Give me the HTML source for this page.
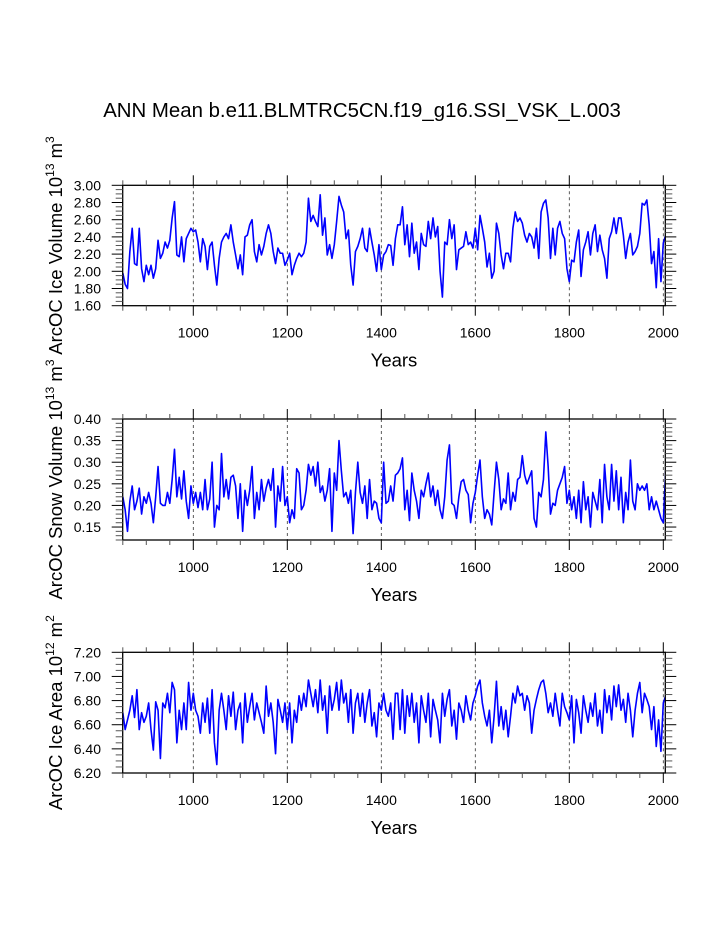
<!DOCTYPE html>
<html><head><meta charset="utf-8"><style>
body{margin:0;background:#fff;}
svg{display:block;font-family:"Liberation Sans",sans-serif;}
</style></head><body>
<svg id="fig" width="723" height="935" viewBox="0 0 723 935" xmlns="http://www.w3.org/2000/svg">
<rect width="723" height="935" fill="#fff"/>
<text x="362" y="117" font-size="20.4" text-anchor="middle">ANN Mean b.e11.BLMTRC5CN.f19_g16.SSI_VSK_L.003</text>
</svg>
<script>
const startYear = 850;
const yearStep = 5;
const xTickLabels = [1000, 1200, 1400, 1600, 1800, 2000];
const iceVolume = [1.98,1.85,1.80,2.23,2.5,2.09,2.07,2.5,2.03,1.88,2.07,1.96,2.07,1.92,2.03,2.36,2.15,2.21,2.34,2.27,2.36,2.62,2.81,2.19,2.17,2.40,2.11,2.38,2.44,2.5,2.46,2.48,2.34,2.11,2.38,2.29,2.02,2.29,2.34,2.07,1.84,2.15,2.34,2.4,2.44,2.38,2.54,2.34,2.19,2.03,2.19,1.96,2.4,2.42,2.54,2.6,2.23,2.11,2.31,2.19,2.29,2.44,2.54,2.44,2.23,2.09,2.27,2.21,2.21,2.07,2.13,2.21,1.96,2.07,2.15,2.21,2.17,2.21,2.34,2.85,2.58,2.65,2.58,2.52,2.89,2.42,2.62,2.19,2.31,2.15,2.31,2.58,2.87,2.77,2.69,2.38,2.48,2.07,1.84,2.23,2.29,2.38,2.5,2.27,2.23,2.5,2.34,2.19,2.0,2.31,2.02,2.19,2.23,2.31,2.3,2.07,2.38,2.54,2.54,2.75,2.31,2.54,2.17,2.56,2.21,2.34,2.02,2.44,2.31,2.29,2.58,2.38,2.62,2.4,2.52,2.0,1.70,2.34,2.31,2.6,2.38,2.54,2.02,2.25,2.27,2.29,2.46,2.31,2.34,2.27,2.5,2.25,2.65,2.5,2.34,2.05,2.21,1.92,2.0,2.56,2.44,2.19,2.03,2.21,2.21,2.11,2.5,2.69,2.58,2.62,2.56,2.42,2.34,2.44,2.40,2.27,2.5,2.15,2.69,2.79,2.83,2.62,2.15,2.5,2.19,2.5,2.58,2.44,2.38,2.03,1.88,2.13,2.11,2.34,2.48,1.94,2.25,2.34,2.46,2.19,2.44,2.54,2.23,2.42,2.25,2.15,1.92,2.38,2.46,2.62,2.44,2.62,2.62,2.42,2.15,2.34,2.44,2.19,2.23,2.29,2.44,2.79,2.77,2.83,2.54,2.09,2.23,1.81,2.38,1.88,2.33,2.42];
const snowVolume = [0.22,0.19,0.14,0.21,0.245,0.19,0.21,0.24,0.18,0.22,0.205,0.23,0.205,0.16,0.22,0.29,0.205,0.20,0.20,0.23,0.205,0.26,0.33,0.22,0.265,0.215,0.28,0.21,0.17,0.245,0.205,0.23,0.195,0.23,0.19,0.26,0.19,0.215,0.30,0.15,0.20,0.19,0.32,0.22,0.26,0.215,0.265,0.27,0.245,0.17,0.25,0.14,0.235,0.20,0.235,0.29,0.17,0.23,0.19,0.26,0.21,0.24,0.26,0.235,0.285,0.15,0.245,0.21,0.29,0.20,0.22,0.16,0.19,0.17,0.285,0.275,0.19,0.20,0.235,0.295,0.27,0.29,0.245,0.30,0.23,0.245,0.21,0.235,0.285,0.14,0.275,0.235,0.35,0.28,0.22,0.23,0.205,0.235,0.135,0.23,0.30,0.23,0.205,0.245,0.17,0.26,0.19,0.21,0.205,0.17,0.16,0.30,0.205,0.21,0.245,0.21,0.27,0.275,0.285,0.31,0.19,0.235,0.165,0.275,0.235,0.21,0.17,0.235,0.22,0.25,0.275,0.22,0.245,0.20,0.235,0.19,0.17,0.22,0.305,0.34,0.205,0.20,0.17,0.22,0.255,0.26,0.235,0.225,0.16,0.205,0.23,0.27,0.305,0.22,0.17,0.19,0.18,0.155,0.23,0.30,0.26,0.19,0.215,0.205,0.275,0.19,0.23,0.21,0.26,0.265,0.315,0.27,0.25,0.265,0.28,0.17,0.15,0.23,0.22,0.26,0.37,0.29,0.18,0.205,0.20,0.235,0.25,0.265,0.29,0.205,0.235,0.19,0.22,0.17,0.235,0.16,0.255,0.19,0.22,0.15,0.23,0.21,0.19,0.26,0.16,0.295,0.22,0.19,0.295,0.21,0.28,0.19,0.265,0.16,0.23,0.19,0.305,0.21,0.19,0.25,0.235,0.245,0.235,0.25,0.19,0.22,0.19,0.21,0.19,0.17,0.16,0.28];
const iceArea = [6.70,6.56,6.64,6.72,6.84,6.66,6.89,6.56,6.70,6.62,6.67,6.78,6.56,6.39,6.79,6.72,6.32,6.78,6.74,6.86,6.70,6.95,6.89,6.45,6.72,6.56,6.78,6.56,6.95,6.72,6.86,6.72,6.67,6.53,6.78,6.62,6.82,6.53,6.89,6.45,6.27,6.72,6.86,6.72,6.56,6.84,6.67,6.87,6.56,6.72,6.78,6.45,6.86,6.62,6.75,6.86,6.64,6.78,6.70,6.62,6.53,6.92,6.67,6.78,6.62,6.36,6.81,6.72,6.62,6.78,6.56,6.78,6.45,6.72,6.62,6.84,6.72,6.86,6.75,6.97,6.86,6.75,6.89,6.70,6.97,6.72,6.84,6.53,6.92,6.72,6.81,6.95,6.72,6.97,6.78,6.86,6.62,6.89,6.53,6.78,6.86,6.67,6.86,6.62,6.78,6.89,6.59,6.70,6.50,6.78,6.72,6.86,6.72,6.67,6.78,6.48,6.86,6.86,6.56,6.89,6.53,6.84,6.67,6.86,6.62,6.78,6.45,6.84,6.72,6.62,6.86,6.50,6.81,6.72,6.64,6.45,6.86,6.67,6.81,6.89,6.59,6.72,6.48,6.78,6.72,6.62,6.84,6.72,6.64,6.78,6.84,6.92,6.97,6.78,6.67,6.59,6.72,6.45,6.67,6.96,6.59,6.75,6.56,6.72,6.50,6.67,6.86,6.78,6.92,6.84,6.86,6.72,6.84,6.78,6.53,6.72,6.81,6.89,6.95,6.97,6.86,6.70,6.78,6.67,6.86,6.72,6.59,6.86,6.75,6.70,6.64,6.84,6.45,6.81,6.70,6.53,6.84,6.72,6.62,6.78,6.67,6.86,6.59,6.72,6.53,6.89,6.70,6.84,6.64,6.92,6.75,6.93,6.72,6.81,6.62,6.86,6.72,6.50,6.72,6.86,6.95,6.70,6.86,6.81,6.75,6.56,6.75,6.42,6.64,6.38,6.78,6.84];
const iceVolumeTicks = ["1.60","1.80","2.00","2.20","2.40","2.60","2.80","3.00"];
const snowVolumeTicks = ["0.15","0.20","0.25","0.30","0.35","0.40"];
const iceAreaTicks = ["6.20","6.40","6.60","6.80","7.00","7.20"];

const NS = "http://www.w3.org/2000/svg";
const svg = document.getElementById("fig");
const L = 122.7, R = 665.3;
function xScale(yr){ return 193.3 + (yr - 1000) * 0.47; }
function mk(tag, attrs, parent){ const e = document.createElementNS(NS, tag); for (const k in attrs) e.setAttribute(k, attrs[k]); (parent||svg).appendChild(e); return e; }

function panel(key, top, bottom, ymin, ymax, yTicks, minorStep, data, titleParts){
  const g = mk("g", {});
  
  
  const yScale = v => bottom - (v - ymin) / (ymax - ymin) * (bottom - top);
  const cp = mk("clipPath", {id: "clip-" + key}, g);
  mk("rect", {x: L, y: top, width: R - L, height: bottom - top}, cp);
  xTickLabels.forEach(yr => {
    const gl = mk("line", {x1: xScale(yr), x2: xScale(yr), y1: top, y2: bottom, stroke: "#333", "stroke-width": 0.8, "stroke-dasharray": "3,3"}, g);
    
    
  });
  let d = "";
  data.forEach((v, i) => { const yr = startYear + i * yearStep; d += (i ? "L" : "M") + xScale(yr).toFixed(2) + "," + yScale(v).toFixed(2); });
  const line = mk("path", {d: d, fill: "none", stroke: "#0000ff", "stroke-width": 1.6, "stroke-linejoin": "round", "clip-path": "url(#clip-" + key + ")"}, g);
  
  
  const fr = mk("rect", {x: L, y: top, width: R - L, height: bottom - top, fill: "none", stroke: "#000", "stroke-width": 1.3}, g);
  
  
  for (let yr = 850; yr <= 2004; yr += 50) {
    const major = yr % 200 === 0;
    const len = major ? 10 : 5;
    const x = xScale(yr);
    mk("line", {x1: x, x2: x, y1: bottom, y2: bottom + len, stroke: major ? "#000" : "#555", "stroke-width": 1}, g);
    mk("line", {x1: x, x2: x, y1: top, y2: top - len, stroke: major ? "#000" : "#555", "stroke-width": 1}, g);
  }
  xTickLabels.forEach(yr => {
    const t = mk("text", {x: xScale(yr), y: bottom + 32, "font-size": 14, "text-anchor": "middle"}, g);
    t.textContent = yr;
    
    
  });
  const xt = mk("text", {x: 394, y: bottom + 61, "font-size": 18.5, "text-anchor": "middle"}, g);
  xt.textContent = "Years";
  
  
  const n = Math.round((ymax - ymin) / minorStep);
  const majorEvery = Math.round((parseFloat(yTicks[1]) - parseFloat(yTicks[0])) / minorStep);
  const firstMajor = parseFloat(yTicks[0]);
  for (let i = 0; i <= n; i++) {
    const v = ymin + i * minorStep;
    const k = Math.round((v - firstMajor) / minorStep);
    const major = Math.abs(v - firstMajor - k * minorStep) < 1e-6 && k % majorEvery === 0 && k >= 0;
    const len = major ? 11 : 7;
    const y = yScale(v);
    mk("line", {x1: L, x2: L - len, y1: y, y2: y, stroke: major ? "#000" : "#555", "stroke-width": 1}, g);
    mk("line", {x1: R, x2: R + len, y1: y, y2: y, stroke: major ? "#000" : "#555", "stroke-width": 1}, g);
  }
  yTicks.forEach(s => {
    const t = mk("text", {x: 101, y: yScale(parseFloat(s)) + 5, "font-size": 14, "text-anchor": "end"}, g);
    t.textContent = s;
    
    
  });
  const cy = (top + bottom) / 2;
  const yt = mk("text", {x: 0, y: 0, "font-size": 18.5, "text-anchor": "middle", transform: "translate(62," + cy + ") rotate(-90)"}, g);
  
  
  titleParts.forEach(p => {
    const ts = mk("tspan", p.sup ? {"font-size": 12, dy: -8} : (p.down ? {dy: 8} : {}), yt);
    ts.textContent = p.t;
  });
}

panel("ice-volume", 185.3, 305.7, 1.6, 3.0, iceVolumeTicks, 0.05, iceVolume,
  [{t:"ArcOC Ice Volume 10"},{t:"13",sup:1},{t:" m",down:1},{t:"3",sup:1}]);
panel("snow-volume", 419, 540, 0.12, 0.40, snowVolumeTicks, 0.01, snowVolume,
  [{t:"ArcOC Snow Volume 10"},{t:"13",sup:1},{t:" m",down:1},{t:"3",sup:1}]);
panel("ice-area", 652.3, 773, 6.2, 7.2, iceAreaTicks, 0.05, iceArea,
  [{t:"ArcOC Ice Area 10"},{t:"12",sup:1},{t:" m",down:1},{t:"2",sup:1}]);
</script>
</body></html>
